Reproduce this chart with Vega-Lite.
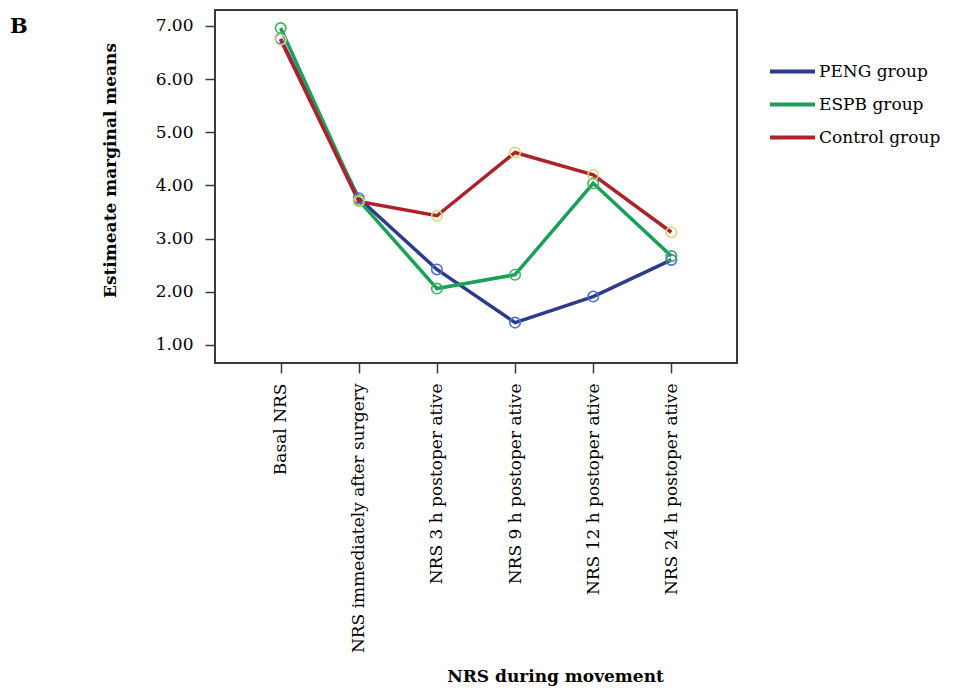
{
  "$schema": "https://vega.github.io/schema/vega-lite/v6.json",
  "autosize": "none",
  "width": 522,
  "height": 353,
  "padding": {"left": 215, "top": 10, "right": 216, "bottom": 326},
  "background": "white",
  "config": {
    "font": "DejaVu Serif",
    "view": {"stroke": "#3a3a3a", "strokeWidth": 2},
    "axis": {"grid": false, "domain": false, "labelColor": "black", "titleColor": "black", "tickColor": "#3a3a3a", "tickWidth": 1.5, "tickSize": 10, "labelFont": "DejaVu Serif", "titleFont": "DejaVu Serif", "labelFontSize": 17, "titleFontSize": 17, "titleFontWeight": "bold", "labelLimit": 400}
  },
  "title": {"text": "B", "anchor": "start", "frame": "group", "dx": -205, "dy": 48, "fontSize": 21, "fontWeight": "bold", "font": "DejaVu Serif", "color": "black", "baseline": "alphabetic"},
  "data": {
    "values": [
      {"time": "Basal NRS", "group": "PENG group", "mean": 6.76},
      {"time": "NRS immediately after surgery", "group": "PENG group", "mean": 3.76},
      {"time": "NRS 3 h postoper ative", "group": "PENG group", "mean": 2.42},
      {"time": "NRS 9 h postoper ative", "group": "PENG group", "mean": 1.42},
      {"time": "NRS 12 h postoper ative", "group": "PENG group", "mean": 1.91},
      {"time": "NRS 24 h postoper ative", "group": "PENG group", "mean": 2.60},
      {"time": "Basal NRS", "group": "ESPB group", "mean": 6.96},
      {"time": "NRS immediately after surgery", "group": "ESPB group", "mean": 3.72},
      {"time": "NRS 3 h postoper ative", "group": "ESPB group", "mean": 2.06},
      {"time": "NRS 9 h postoper ative", "group": "ESPB group", "mean": 2.32},
      {"time": "NRS 12 h postoper ative", "group": "ESPB group", "mean": 4.04},
      {"time": "NRS 24 h postoper ative", "group": "ESPB group", "mean": 2.67},
      {"time": "Basal NRS", "group": "Control group", "mean": 6.74},
      {"time": "NRS immediately after surgery", "group": "Control group", "mean": 3.70},
      {"time": "NRS 3 h postoper ative", "group": "Control group", "mean": 3.43},
      {"time": "NRS 9 h postoper ative", "group": "Control group", "mean": 4.62},
      {"time": "NRS 12 h postoper ative", "group": "Control group", "mean": 4.20},
      {"time": "NRS 24 h postoper ative", "group": "Control group", "mean": 3.12}
    ]
  },
  "encoding": {
    "x": {
      "field": "time", "type": "nominal",
      "sort": ["Basal NRS", "NRS immediately after surgery", "NRS 3 h postoper ative", "NRS 9 h postoper ative", "NRS 12 h postoper ative", "NRS 24 h postoper ative"],
      "scale": {"type": "point", "padding": 0.84},
      "axis": {"title": "NRS during movement", "labelAngle": -90, "labelPadding": 10, "titleX": 340, "titleY": 318, "titleBaseline": "alphabetic", "titleAnchor": null, "titleAlign": "center"}
    },
    "y": {
      "field": "mean", "type": "quantitative",
      "scale": {"domain": [0.66, 7.3], "nice": false, "zero": false},
      "axis": {"title": "Estimeate marginal means", "values": [1, 2, 3, 4, 5, 6, 7], "format": ".2f", "labelPadding": 12, "titleX": -100, "titleY": 160, "titleAngle": -90, "titleAlign": "center", "titleBaseline": "alphabetic", "titleAnchor": null}
    }
  },
  "layer": [
    {
      "mark": {"type": "line", "strokeWidth": 3.5},
      "encoding": {
        "color": {
          "field": "group", "type": "nominal",
          "scale": {"domain": ["PENG group", "ESPB group", "Control group"], "range": ["#2e3a8c", "#1aa058", "#b0202a"]},
          "legend": {"title": null, "orient": "none", "legendX": 553, "legendY": 37, "symbolType": "stroke", "symbolSize": 2025, "symbolStrokeWidth": 4, "labelFontSize": 17, "labelFont": "DejaVu Serif", "labelColor": "black", "rowPadding": -9, "labelOffset": 2, "labelLimit": 300}
        }
      }
    },
    {
      "mark": {"type": "point", "filled": false, "strokeWidth": 1.6, "size": 110, "opacity": 1},
      "encoding": {
        "stroke": {
          "field": "group", "type": "nominal",
          "scale": {"domain": ["PENG group", "ESPB group", "Control group"], "range": ["#4d6fd4", "#3cb45c", "#d6d67a"]},
          "legend": null
        }
      }
    }
  ]
}
